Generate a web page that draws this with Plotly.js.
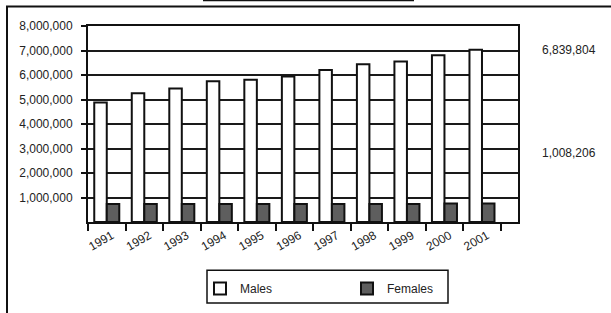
<!DOCTYPE html>
<html>
<head>
<meta charset="utf-8">
<script src="https://cdn.plot.ly/plotly-3.0.1.min.js"></script>
<style>html,body{margin:0;padding:0;background:#fff;}#chart{width:611px;height:313px;}</style>
</head>
<body>
<div id="chart"></div>
<script>
var years = ['1991','1992','1993','1994','1995','1996','1997','1998','1999','2000','2001'];
var males = [4880000, 5260000, 5450000, 5740000, 5810000, 5940000, 6200000, 6440000, 6550000, 6810000, 7030000];
var females = [730000, 730000, 730000, 730000, 730000, 730000, 730000, 730000, 730000, 760000, 760000];
var yTickVals = [1000000, 2000000, 3000000, 4000000, 5000000, 6000000, 7000000, 8000000];
var sideLabels = ['6,839,804', '1,008,206'];

var font = {family: 'Liberation Sans, Arial, sans-serif', size: 12, color: '#222'};

var traces = [
  {type: 'bar', name: 'Males', x: years, y: males,
   marker: {color: '#ffffff', line: {color: '#111', width: 2}}},
  {type: 'bar', name: 'Females', x: years, y: females,
   marker: {color: '#5e5e5e', line: {color: '#111', width: 2}}}
];

// pixel helpers for paper coords (plot area 88..518 x, 26..222.7 y)
function px(x){ return (x - 88) / 430; }
function py(y){ return (222.7 - y) / 196.7; }

var layout = {
  width: 611, height: 313,
  margin: {l: 88, r: 93, t: 26, b: 90.3, pad: 0},
  paper_bgcolor: '#fff', plot_bgcolor: '#fff',
  font: font,
  showlegend: true,
  barmode: 'group', bargap: 0.333, bargroupgap: 0,
  xaxis: {type: 'category', range: [-0.5, 10.96], showline: true, linecolor: '#111', linewidth: 2,
          mirror: true, ticks: 'outside', tickson: 'boundaries', ticklen: 7, tickwidth: 2, tickcolor: '#111',
          tickangle: -30, ticklabelshift: 5, showgrid: false, tickfont: font, fixedrange: true},
  yaxis: {range: [0, 8000000], tickmode: 'array', tickvals: yTickVals, tickformat: ',d',
          showline: true, linecolor: '#111', linewidth: 2,
          mirror: true, ticks: 'outside', ticklen: 5, tickwidth: 2, tickcolor: '#111',
          showgrid: true, gridcolor: '#1a1a1a', gridwidth: 2, zeroline: false,
          ticklabelstandoff: 6, tickfont: font, fixedrange: true},
  legend: {orientation: 'h', x: px(200), xanchor: 'left', y: py(288), yanchor: 'middle',
           entrywidth: 102, entrywidthmode: 'pixels', bgcolor: 'rgba(0,0,0,0)', borderwidth: 0,
           font: font, traceorder: 'normal'},
  annotations: [
    {xref: 'paper', yref: 'paper', x: px(540), y: py(50), xanchor: 'left', yanchor: 'middle',
     text: sideLabels[0], showarrow: false, font: font},
    {xref: 'paper', yref: 'paper', x: px(540), y: py(153), xanchor: 'left', yanchor: 'middle',
     text: sideLabels[1], showarrow: false, font: font}
  ],
  shapes: [
    {type: 'rect', xref: 'paper', yref: 'paper', x0: px(207), x1: px(448), y0: py(304), y1: py(271),
     line: {color: '#111', width: 1.5}},
    {type: 'line', xref: 'paper', yref: 'paper', x0: px(7), x1: px(7), y0: py(6.5), y1: py(320),
     line: {color: '#111', width: 2}},
    {type: 'line', xref: 'paper', yref: 'paper', x0: px(6), x1: px(620), y0: py(6.5), y1: py(6.5),
     line: {color: '#111', width: 2}},
    {type: 'line', xref: 'paper', yref: 'paper', x0: px(203), x1: px(414), y0: py(0.5), y1: py(0.5),
     line: {color: '#111', width: 1.5}}
  ]
};

Plotly.newPlot('chart', traces, layout, {displayModeBar: false, staticPlot: true});
</script>
</body>
</html>
